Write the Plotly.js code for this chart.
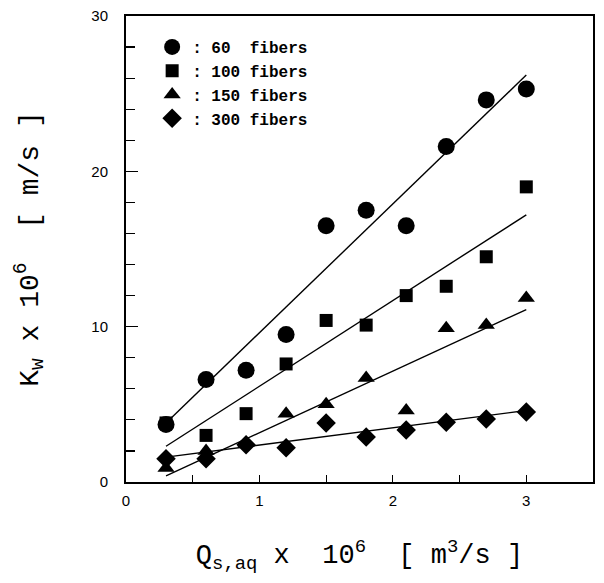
<!DOCTYPE html>
<html>
<head>
<meta charset="utf-8">
<script src="https://cdn.plot.ly/plotly-3.0.1.min.js"></script>
<style>html,body{margin:0;padding:0;background:#fff;}#chart{width:604px;height:583px;}</style>
</head>
<body>
<div id="chart"></div>
<script>
// Data
const flowRate = [0.3, 0.6, 0.9, 1.2, 1.5, 1.8, 2.1, 2.4, 2.7, 3.0];
const kw60  = [3.7, 6.6, 7.2, 9.5, 16.5, 17.5, 16.5, 21.6, 24.6, 25.3];
const kw100 = [3.8, 3.0, 4.4, 7.6, 10.4, 10.1, 12.0, 12.6, 14.5, 19.0];
const kw150 = [0.9, 2.0, 2.5, 4.4, 5.0, 6.7, 4.6, 9.9, 10.1, 11.85];
const kw300 = [1.5, 1.5, 2.4, 2.2, 3.8, 2.9, 3.35, 3.85, 4.05, 4.5];
// Fitted line ends (at first and last flow rate)
const fitX = [0.3, 3.0];
const fit60  = [3.8, 26.2];
const fit100 = [2.3, 17.2];
const fit150 = [0.4, 11.1];
const fit300 = [1.6, 4.6];
const seriesNames = [': 60&nbsp;&nbsp;fibers', ': 100 fibers', ': 150 fibers', ': 300 fibers'];

const sym = ['circle', 'square', 'triangle-up', 'diamond'];
const sz = [17, 13, 15, 15];
const ys = [kw60, kw100, kw150, kw300];
const fits = [fit60, fit100, fit150, fit300];

const traces = [];
for (let i = 0; i < 4; i++) {
  traces.push({
    x: fitX, y: fits[i], mode: 'lines', showlegend: false,
    line: {color: '#000', width: 1.4}, hoverinfo: 'skip'
  });
}
for (let i = 0; i < 4; i++) {
  traces.push({
    x: flowRate, y: ys[i], mode: 'markers', name: seriesNames[i],
    marker: {symbol: sym[i], size: sz[i], color: '#000', line: {width: 0}}
  });
}

const monoFont = 'Liberation Mono, Courier New, monospace';
const layout = {
  width: 604, height: 583,
  margin: {l: 126, r: 11, t: 16, b: 101},
  paper_bgcolor: '#fff', plot_bgcolor: '#fff',
  showlegend: true,
  legend: {
    x: 0.056, y: 0.97, xanchor: 'left', yanchor: 'top',
    font: {family: monoFont, size: 16, color: '#000', weight: 'bold'},
    bgcolor: 'rgba(0,0,0,0)', tracegroupgap: 0, itemwidth: 30
  },
  xaxis: {
    range: [0, 3.5], tickvals: [0, 1, 2, 3], ticks: 'inside', ticklen: 7, tickwidth: 1.2, tickcolor: '#000',
    minor: {dtick: 0.5, ticks: 'inside', ticklen: 7, tickcolor: '#000', tickwidth: 1.2},
    showgrid: false, zeroline: false, showline: true, linecolor: '#000', linewidth: 2, mirror: true,
    ticklabelstandoff: 4,
    tickfont: {family: 'Liberation Sans, Arial, sans-serif', size: 15, color: '#000'},
    title: {text: 'Q<sub>s,aq</sub> x&nbsp;&nbsp;10<sup>6</sup>&nbsp;&nbsp;[ m<sup>3</sup>/s ]', standoff: 36,
      font: {family: monoFont, size: 27, color: '#000'}}
  },
  yaxis: {
    range: [0, 30], tickvals: [0, 10, 20, 30], ticks: 'inside', ticklen: 12, tickwidth: 1.2, tickcolor: '#000',
    minor: {dtick: 2, ticks: 'inside', ticklen: 9, tickcolor: '#000', tickwidth: 1.2},
    showgrid: false, zeroline: false, showline: true, linecolor: '#000', linewidth: 2, mirror: true,
    ticklabelstandoff: 13,
    tickfont: {family: 'Liberation Sans, Arial, sans-serif', size: 15, color: '#000'},
    title: {text: 'K<sub>w</sub> x 10<sup>6</sup>&nbsp;&nbsp;[ m/s ]', standoff: 45,
      font: {family: monoFont, size: 28, color: '#000'}}
  }
};

Plotly.newPlot('chart', traces, layout, {staticPlot: true, displayModeBar: false});
</script>
</body>
</html>
